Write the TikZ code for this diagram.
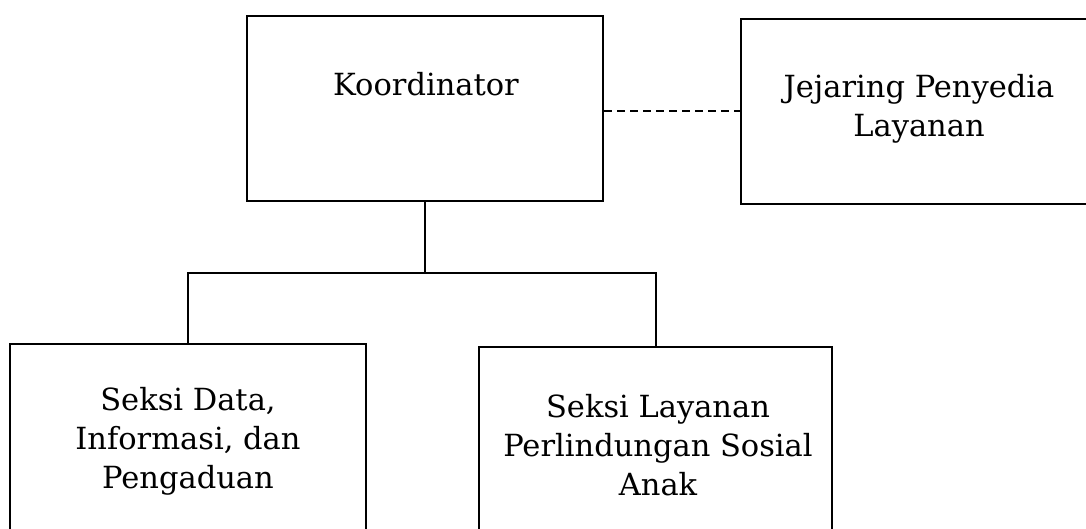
\documentclass[tikz,border=0pt]{standalone}
\usepackage{fontspec}
\setmainfont{DejaVu Serif}
\begin{document}
\begin{tikzpicture}[x=1pt,y=-1pt,
  box/.style={draw, line width=2pt, inner sep=0pt},
  lbl/.style={align=center, font=\fontsize{30.5}{39}\selectfont, inner sep=0pt},
  conn/.style={line width=2pt},
  dashconn/.style={line width=2pt, dash pattern=on 8pt off 5pt}]
\useasboundingbox (0,0) rectangle (1086,529);
\clip (0,0) rectangle (1086,529);
\fill[white] (0,0) rectangle (1086,529);
% boxes
\node[box, minimum width=356pt, minimum height=185pt] (koord) at (425,108.5) {};
\node[box, minimum width=354pt, minimum height=185pt] (jej) at (918,111.5) {};
\node[box, minimum width=356pt, minimum height=200pt] (data) at (188,444) {};
\node[box, minimum width=353pt, minimum height=200pt] (lay) at (655.5,447) {};
% texts
\node[lbl, anchor=base] (tkoord) at (426,96) {Koordinator};
\node[lbl, anchor=base] (tjej) at (919,137) {Jejaring Penyedia\\Layanan};
\node[lbl, anchor=base] (tdata) at (188,488) {Seksi Data,\\Informasi, dan\\Pengaduan};
\node[lbl, anchor=base] (tlay) at (658,495) {Seksi Layanan\\Perlindungan Sosial\\Anak};
% connectors
\coordinate (bus) at (425,273);
\draw[conn] (koord.south) -- (bus);
\draw[conn] (data.north) |- (bus) -| (lay.north);
\draw[dashconn] (koord.east |- jej.west) -- (jej.west);
\end{tikzpicture}
\end{document}
